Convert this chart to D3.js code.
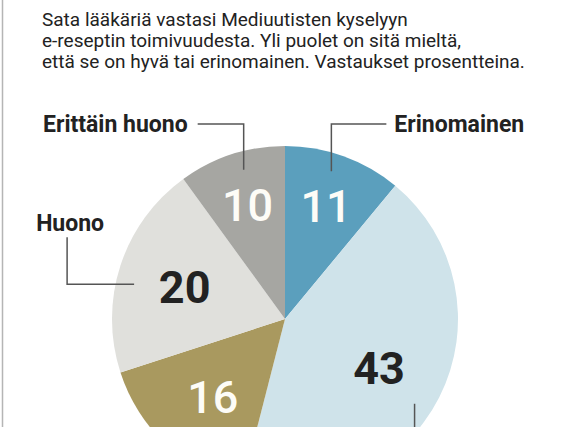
<!DOCTYPE html>
<html>
<head>
<meta charset="utf-8">
<script src="https://cdn.jsdelivr.net/npm/d3@7"></script>
<style>
  body { margin: 0; background: #fff; }
  svg { display: block; }
</style>
</head>
<body>
<svg id="chart" width="570" height="427"></svg>
<script>
// survey answers, percent (order = clockwise from 12 o'clock)
var categories = ["Erinomainen", "Hyvä", "Tyydyttävä", "Huono", "Erittäin huono"];
var values = [11, 43, 16, 20, 10];
var sliceColors = ["#5b9fbd", "#cfe3ea", "#a9995f", "#e0e0dc", "#a6a6a2"];
var numberColors = ["#fdfcf7", "#222222", "#fdfcf7", "#222222", "#fdfcf7"];

var titleLines = [
  "Sata lääkäriä vastasi Mediuutisten kyselyyn",
  "e-reseptin toimivuudesta. Yli puolet on sitä mieltä,",
  "että se on hyvä tai erinomainen. Vastaukset prosentteina."
];

var svg = d3.select("#chart");
var width = +svg.attr("width");
var height = +svg.attr("height");

// thin grey frame on the left edge
svg.append("line")
  .attr("x1", 2.5).attr("x2", 2.5).attr("y1", 0).attr("y2", height)
  .attr("stroke", "#b5b5b5").attr("stroke-width", 1.5);

// intro text
svg.append("g").selectAll("text")
  .data(titleLines)
  .join("text")
  .attr("x", 42)
  .attr("y", (d, i) => 26 + i * 21)
  .attr("font-family", "Roboto, sans-serif")
  .attr("font-size", 19)
  .attr("fill", "#222")
  .text(d => d);

var cx = 285, cy = 319, r = 173;

var pie = d3.pie().sort(null).value(d => d.value);
var arcs = pie(categories.map((c, i) => ({ name: c, value: values[i], i: i })));
var arc = d3.arc().innerRadius(0).outerRadius(r);

var g = svg.append("g").attr("transform", "translate(" + cx + "," + cy + ")");

g.selectAll("path")
  .data(arcs)
  .join("path")
  .attr("d", arc)
  .attr("fill", d => sliceColors[d.data.i]);

// value numbers inside the slices; small slices get their number further out
g.selectAll("text.num")
  .data(arcs)
  .join("text")
  .attr("class", "num")
  .attr("transform", d => {
    var a = (d.startAngle + d.endAngle) / 2;
    var rr = d.data.value <= 12 ? r * 0.70 : r * 0.61;
    return "translate(" + (Math.sin(a) * rr) + "," + (-Math.cos(a) * rr + 17) + ")";
  })
  .attr("text-anchor", "middle")
  .attr("font-family", "Roboto, sans-serif")
  .attr("font-size", 45)
  .attr("font-weight", d => numberColors[d.data.i] === "#222222" ? 700 : 500)
  .attr("fill", d => numberColors[d.data.i])
  .text(d => d.data.value);

// callout lines with category names
// where along each slice the line starts (0..1), and which way it bends
var callouts = {
  "Erinomainen":    { at: 0.44, dir: "up-right" },
  "Erittäin huono": { at: 0.57, dir: "up-left" },
  "Huono":          { at: 0.43, dir: "left-up" },
  "Hyvä":           { at: 0.54, dir: "down" }
};
var leaderR = r * 0.895;
var elbowY = 124 - cy;

arcs.forEach(d => {
  var c = callouts[d.data.name];
  if (!c) return;
  var a = d.startAngle + (d.endAngle - d.startAngle) * c.at;
  var x0 = Math.sin(a) * leaderR, y0 = -Math.cos(a) * leaderR;
  var pts, lx, ly, anchor;
  if (c.dir === "up-right") {
    pts = [[x0, y0], [x0, elbowY], [x0 + 55, elbowY]];
    lx = x0 + 63; ly = elbowY + 8; anchor = "start";
  } else if (c.dir === "up-left") {
    pts = [[x0, y0], [x0, elbowY], [x0 - 46, elbowY]];
    lx = x0 - 56; ly = elbowY + 8; anchor = "end";
  } else if (c.dir === "left-up") {
    pts = [[x0, y0], [x0 - 67, y0], [x0 - 67, y0 - 47]];
    lx = x0 - 64; ly = y0 - 53; anchor = "middle";
  } else {
    pts = [[x0, y0], [x0, height - cy + 10]];
  }
  g.append("path")
    .attr("d", d3.line()(pts))
    .attr("fill", "none")
    .attr("stroke", "#555")
    .attr("stroke-width", 1.5);
  if (lx !== undefined) {
    g.append("text")
      .attr("x", lx).attr("y", ly)
      .attr("text-anchor", anchor)
      .attr("font-family", "Roboto, sans-serif")
      .attr("font-weight", 700)
      .attr("font-size", 23)
      .attr("fill", "#222")
      .text(d.data.name);
  }
});
</script>
</body>
</html>
